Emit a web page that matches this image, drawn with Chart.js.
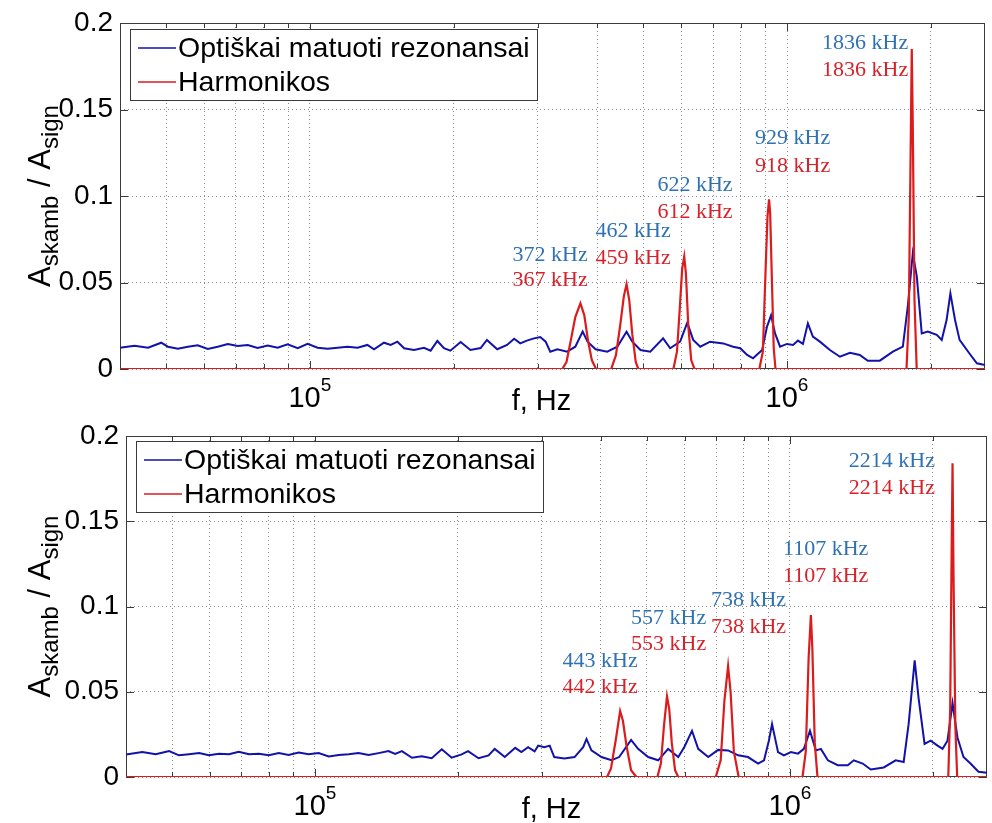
<!DOCTYPE html>
<html>
<head>
<meta charset="utf-8">
<script src="https://cdn.jsdelivr.net/npm/chart.js@4.4.1/dist/chart.umd.min.js"></script>
<style>
	html, body { margin: 0; padding: 0; background: #fff; }
	#wrap { position: relative; width: 992px; height: 823px; }
	#topBox { position: absolute; left: 0; top: 0; }
	#bottomBox { position: absolute; left: 0; top: 415px; }
</style>
</head>
<body>
<div id="wrap">
	<div id="topBox"><canvas id="chartTop" width="992" height="415"></canvas></div>
	<div id="bottomBox"><canvas id="chartBottom" width="992" height="408"></canvas></div>
</div>
<script>
( function () {
	'use strict';

	// axis settings
	var xGridFreqs = [ 5e4, 6e4, 7e4, 8e4, 9e4, 1e5, 2e5, 3e5, 4e5, 5e5, 6e5, 7e5, 8e5, 9e5, 1e6, 2e6 ];
	var xLabelFreqs = [ 1e5, 1e6 ];
	var xLabelExps = [ '5', '6' ];
	var yTickValues = [ 0, 0.05, 0.1, 0.15, 0.2 ];
	var yTickLabels = [ '0', '0.05', '0.1', '0.15', '0.2' ];
	var seriesNames = [ 'Optiškai matuoti rezonansai', 'Harmonikos' ];

	// top panel: optical resonances
	var topBlueFreq = [
		4.0e4, 4.29e4, 4.58e4, 4.88e4, 5.04e4, 5.29e4, 5.55e4, 5.82e4, 6.11e4, 6.41e4,
		6.73e4, 7.06e4, 7.41e4, 7.77e4, 8.16e4, 8.56e4, 8.98e4, 9.43e4, 9.89e4, 1.038e5,
		1.089e5, 1.143e5, 1.199e5, 1.259e5, 1.32e5, 1.363e5, 1.43e5, 1.477e5, 1.526e5, 1.576e5,
		1.653e5, 1.735e5, 1.791e5, 1.85e5, 1.91e5, 1.97e5, 2.07e5, 2.17e5, 2.28e5, 2.35e5,
		2.47e5, 2.59e5, 2.68e5, 2.76e5, 2.85e5, 2.95e5, 3.04e5, 3.12e5, 3.19e5, 3.30e5,
		3.46e5, 3.60e5, 3.73e5, 3.82e5, 3.97e5, 4.20e5, 4.41e5, 4.61e5, 4.74e5, 4.93e5,
		5.17e5, 5.50e5, 5.69e5, 5.97e5, 6.18e5, 6.36e5, 6.58e5, 6.90e5, 7.35e5, 7.71e5,
		7.98e5, 8.25e5, 8.49e5, 8.87e5, 9.08e5, 9.26e5, 9.44e5, 9.67e5, 1.0e6, 1.03e6,
		1.054e6, 1.08e6, 1.106e6, 1.133e6, 1.172e6, 1.23e6, 1.291e6, 1.355e6, 1.421e6, 1.477e6,
		1.565e6, 1.667e6, 1.749e6, 1.791e6, 1.835e6, 1.871e6, 1.916e6, 1.972e6, 2.06e6, 2.11e6,
		2.16e6, 2.20e6, 2.25e6, 2.30e6, 2.41e6, 2.50e6, 2.60e6
	];
	var topBlueAmp = [
		0.0123, 0.0135, 0.0123, 0.0152, 0.0129, 0.0117, 0.0129, 0.0137, 0.0116, 0.0129,
		0.0145, 0.0133, 0.0139, 0.0121, 0.0135, 0.0123, 0.0143, 0.0120, 0.0145, 0.0123,
		0.0117, 0.0123, 0.0129, 0.0123, 0.0139, 0.0114, 0.0152, 0.0139, 0.0158, 0.0120,
		0.0110, 0.0123, 0.0106, 0.0162, 0.0120, 0.0106, 0.0156, 0.0110, 0.0121, 0.0168,
		0.0114, 0.0139, 0.0175, 0.0148, 0.0164, 0.0177, 0.0185, 0.0158, 0.0100, 0.0114,
		0.0100, 0.0129, 0.0216, 0.0158, 0.0114, 0.0100, 0.0129, 0.0216, 0.0158, 0.0110,
		0.0100, 0.0177, 0.0120, 0.0158, 0.0268, 0.0168, 0.0129, 0.0158, 0.0148, 0.0129,
		0.0120, 0.0081, 0.0062, 0.0110, 0.0245, 0.0310, 0.0206, 0.0129, 0.0145, 0.0139,
		0.0164, 0.0145, 0.0264, 0.0187, 0.0158, 0.0110, 0.0071, 0.0094, 0.0081, 0.0048,
		0.0048, 0.0100, 0.0129, 0.0360, 0.0669, 0.0534, 0.0206, 0.0216, 0.0197, 0.0168,
		0.0283, 0.0437, 0.0283, 0.0168, 0.0091, 0.0033, 0.0023
	];

	// top panel: harmonics
	var topRedFreq = [
		4.0e4, 3.38e5, 3.45e5, 3.52e5, 3.60e5, 3.69e5, 3.76e5, 3.83e5, 3.90e5, 3.98e5,
		4.28e5, 4.38e5, 4.47e5, 4.55e5, 4.61e5, 4.67e5, 4.74e5, 4.82e5, 4.88e5,
		5.78e5, 5.88e5, 5.96e5, 6.03e5, 6.09e5, 6.14e5, 6.21e5, 6.30e5, 6.40e5,
		8.75e5, 8.90e5, 9.00e5, 9.10e5, 9.17e5, 9.22e5, 9.30e5, 9.38e5, 9.46e5,
		1.78e6, 1.80e6, 1.815e6, 1.826e6, 1.835e6, 1.85e6, 1.87e6, 2.6e6
	];
	var topRedAmp = [
		0, 0, 0.004, 0.016, 0.030, 0.038, 0.031, 0.016, 0.005, 0,
		0, 0.008, 0.025, 0.042, 0.049, 0.040, 0.020, 0.004, 0,
		0, 0.010, 0.035, 0.058, 0.065, 0.055, 0.025, 0.005, 0,
		0, 0.010, 0.050, 0.088, 0.098, 0.090, 0.050, 0.012, 0,
		0, 0.030, 0.120, 0.185, 0.140, 0.040, 0, 0
	];

	// top panel: peak labels
	var topNoteFreq = [ 2.66e5, 3.97e5, 5.35e5, 8.57e5, 1.184e6 ];
	var topNoteBlueAmp = [ 0.0659, 0.0798, 0.1064, 0.1335, 0.1884 ];
	var topNoteRedAmp = [ 0.0514, 0.0642, 0.0908, 0.1173, 0.1728 ];
	var topNoteBlueText = [ '372 kHz', '462 kHz', '622 kHz', '929 kHz', '1836 kHz' ];
	var topNoteRedText = [ '367 kHz', '459 kHz', '612 kHz', '918 kHz', '1836 kHz' ];

	// bottom panel: optical resonances
	var botBlueFreq = [
		4.0e4, 4.33e4, 4.62e4, 4.93e4, 5.17e4, 5.43e4, 5.70e4, 5.98e4, 6.28e4, 6.59e4,
		6.91e4, 7.26e4, 7.62e4, 7.99e4, 8.39e4, 8.80e4, 9.24e4, 9.70e4, 1.018e5, 1.069e5,
		1.122e5, 1.177e5, 1.235e5, 1.297e5, 1.361e5, 1.428e5, 1.475e5, 1.524e5, 1.60e5, 1.678e5,
		1.761e5, 1.849e5, 1.94e5, 2.036e5, 2.10e5, 2.21e5, 2.32e5, 2.39e5, 2.51e5, 2.64e5,
		2.72e5, 2.81e5, 2.90e5, 2.95e5, 3.04e5, 3.12e5, 3.19e5, 3.35e5, 3.52e5, 3.67e5,
		3.73e5, 3.82e5, 4.01e5, 4.21e5, 4.37e5, 4.63e5, 4.79e5, 5.03e5, 5.28e5, 5.54e5,
		5.82e5, 5.99e5, 6.22e5, 6.41e5, 6.73e5, 7.06e5, 7.41e5, 7.78e5, 8.16e5, 8.57e5,
		8.82e5, 9.03e5, 9.17e5, 9.44e5, 9.71e5, 1.005e6, 1.04e6, 1.07e6, 1.102e6, 1.134e6,
		1.162e6, 1.202e6, 1.261e6, 1.324e6, 1.363e6, 1.423e6, 1.48e6, 1.576e6, 1.67e6, 1.736e6,
		1.778e6, 1.831e6, 1.866e6, 1.921e6, 1.978e6, 2.046e6, 2.096e6, 2.147e6, 2.20e6, 2.253e6,
		2.32e6, 2.40e6, 2.495e6, 2.60e6
	];
	var botBlueAmp = [
		0.0132, 0.0146, 0.0133, 0.0152, 0.0127, 0.0133, 0.0140, 0.0127, 0.0136, 0.0133,
		0.0148, 0.0133, 0.0136, 0.0127, 0.0140, 0.0129, 0.0144, 0.0133, 0.0140, 0.0121,
		0.0129, 0.0133, 0.0140, 0.0129, 0.0140, 0.0152, 0.0136, 0.0152, 0.0113, 0.0121,
		0.0110, 0.0163, 0.0113, 0.0133, 0.0152, 0.0110, 0.0127, 0.0165, 0.0117, 0.0171,
		0.0146, 0.0175, 0.0150, 0.0184, 0.0175, 0.0184, 0.0117, 0.0108, 0.0117, 0.0175,
		0.0223, 0.0156, 0.0117, 0.0098, 0.0117, 0.0217, 0.0165, 0.0117, 0.0098, 0.0165,
		0.0117, 0.0175, 0.0271, 0.0165, 0.0117, 0.0159, 0.0156, 0.0127, 0.0117, 0.0079,
		0.0098, 0.0213, 0.0310, 0.0146, 0.0127, 0.0146, 0.0137, 0.0165, 0.0271, 0.0156,
		0.0165, 0.0098, 0.0069, 0.0069, 0.0098, 0.0079, 0.0044, 0.0056, 0.0098, 0.0088,
		0.0310, 0.0684, 0.0463, 0.0194, 0.0213, 0.0184, 0.0165, 0.0213, 0.0434, 0.0232,
		0.0117, 0.0079, 0.0031, 0.0025
	];

	// bottom panel: harmonics
	var botRedFreq = [
		4.0e4, 4.12e5, 4.20e5, 4.30e5, 4.39e5, 4.45e5, 4.53e5, 4.63e5, 4.75e5,
		5.26e5, 5.35e5, 5.43e5, 5.51e5, 5.57e5, 5.64e5, 5.73e5, 5.82e5,
		6.98e5, 7.15e5, 7.28e5, 7.41e5, 7.50e5, 7.62e5, 7.80e5,
		1.063e6, 1.08e6, 1.095e6, 1.107e6, 1.115e6, 1.128e6, 1.143e6,
		2.155e6, 2.175e6, 2.19e6, 2.20e6, 2.21e6, 2.23e6, 2.25e6, 2.6e6
	];
	var botRedAmp = [
		0, 0, 0.005, 0.022, 0.0386, 0.033, 0.018, 0.004, 0,
		0, 0.008, 0.030, 0.0473, 0.040, 0.020, 0.004, 0,
		0, 0.010, 0.045, 0.065, 0.050, 0.015, 0,
		0, 0.015, 0.070, 0.095, 0.075, 0.020, 0,
		0, 0.040, 0.130, 0.184, 0.120, 0.030, 0, 0
	];

	// bottom panel: peak labels
	var botNoteFreq = [ 3.32e5, 4.63e5, 6.82e5, 9.67e5, 1.33e6 ];
	var botNoteBlueAmp = [ 0.068, 0.0934, 0.1037, 0.1337, 0.185 ];
	var botNoteRedAmp = [ 0.0524, 0.0778, 0.0876, 0.1176, 0.1695 ];
	var botNoteBlueText = [ '443 kHz', '557 kHz', '738 kHz', '1107 kHz', '2214 kHz' ];
	var botNoteRedText = [ '442 kHz', '553 kHz', '738 kHz', '1107 kHz', '2214 kHz' ];

	var SANS = '"Liberation Sans", Arial, sans-serif';
	var SERIF = '"Liberation Serif", "Times New Roman", serif';
	var BLUE = '#1212aa';
	var RED = '#dc1c1c';
	var NOTE_BLUE = '#2f72b3';
	var NOTE_RED = '#d8222a';

	function toPoints( xs, ys ) {
		return xs.map( function ( x, i ) {
			return { x: x, y: ys[ i ] };
		} );
	}

	function drawYTitle( ctx, x, yc ) {
		var parts = [
			[ 'A', 31, 0 ],
			[ 'skamb', 24, 8 ],
			[ ' / A', 31, 0 ],
			[ 'sign', 24, 8 ],
		];
		var total = 0;
		parts.forEach( function ( p ) {
			ctx.font = p[ 1 ] + 'px ' + SANS;
			p.push( ctx.measureText( p[ 0 ] ).width );
			total += p[ 3 ];
		} );
		ctx.save();
		ctx.translate( x, yc );
		ctx.rotate( -Math.PI / 2 );
		ctx.textAlign = 'left';
		ctx.textBaseline = 'alphabetic';
		ctx.fillStyle = '#000';
		var pos = -total / 2;
		parts.forEach( function ( p ) {
			ctx.font = p[ 1 ] + 'px ' + SANS;
			ctx.fillText( p[ 0 ], pos, p[ 2 ] );
			pos += p[ 3 ];
		} );
		ctx.restore();
	}

	var panelPlugin = {
		id: 'panel',
		beforeDatasetsDraw: function ( chart ) {
			var ctx = chart.ctx;
			var a = chart.chartArea;
			var xs = chart.scales.x;
			var ys = chart.scales.y;
			ctx.save();
			ctx.strokeStyle = '#3a3a3a';
			ctx.lineWidth = 1;
			ctx.strokeRect( Math.round( a.left ) + 0.5, Math.round( a.top ) + 0.5,
				Math.round( a.right - a.left ) - 1, Math.round( a.bottom - a.top ) - 1 );
			ctx.beginPath();
			xGridFreqs.forEach( function ( f ) {
				var px = Math.round( xs.getPixelForValue( f ) ) + 0.5;
				var len = xLabelFreqs.indexOf( f ) >= 0 ? 8 : 5;
				ctx.moveTo( px, a.top );
				ctx.lineTo( px, a.top + len );
				ctx.moveTo( px, a.bottom );
				ctx.lineTo( px, a.bottom - len );
			} );
			yTickValues.forEach( function ( v ) {
				var py = Math.round( ys.getPixelForValue( v ) ) + 0.5;
				ctx.moveTo( a.left, py );
				ctx.lineTo( a.left + 8, py );
				ctx.moveTo( a.right, py );
				ctx.lineTo( a.right - 8, py );
			} );
			ctx.stroke();
			ctx.restore();
		},
		afterDatasetsDraw: function ( chart, args, opts ) {
			var ctx = chart.ctx;
			var a = chart.chartArea;
			var xs = chart.scales.x;
			var ys = chart.scales.y;
			ctx.save();

			// x tick labels as powers of ten
			ctx.fillStyle = '#000';
			ctx.textAlign = 'left';
			ctx.textBaseline = 'alphabetic';
			xLabelFreqs.forEach( function ( f, i ) {
				var px = xs.getPixelForValue( f );
				ctx.font = '29px ' + SANS;
				var w1 = ctx.measureText( '10' ).width;
				ctx.font = '19px ' + SANS;
				var w2 = ctx.measureText( xLabelExps[ i ] ).width;
				var x0 = px - ( w1 + w2 ) / 2;
				ctx.font = '29px ' + SANS;
				ctx.fillText( '10', x0, a.bottom + 38 );
				ctx.font = '19px ' + SANS;
				ctx.fillText( xLabelExps[ i ], x0 + w1, a.bottom + 22 );
			} );

			// x title
			ctx.font = '29px ' + SANS;
			ctx.textAlign = 'center';
			ctx.fillText( 'f, Hz', ( a.left + a.right ) / 2 + opts.titleShift, a.bottom + 41 );

			// y title
			drawYTitle( ctx, 50, ( a.top + a.bottom ) / 2 );

			// peak labels
			ctx.font = '22px ' + SERIF;
			ctx.textAlign = 'left';
			ctx.textBaseline = 'middle';
			opts.noteFreq.forEach( function ( f, i ) {
				var px = xs.getPixelForValue( f );
				ctx.fillStyle = NOTE_BLUE;
				ctx.fillText( opts.noteBlueText[ i ], px, ys.getPixelForValue( opts.noteBlueAmp[ i ] ) );
				ctx.fillStyle = NOTE_RED;
				ctx.fillText( opts.noteRedText[ i ], px, ys.getPixelForValue( opts.noteRedAmp[ i ] ) );
			} );

			// legend box
			var lx = Math.round( a.left ) + 10;
			var ly = Math.round( a.top ) + opts.legendTop;
			ctx.fillStyle = '#fff';
			ctx.fillRect( lx, ly, 407, 71 );
			ctx.strokeStyle = '#3a3a3a';
			ctx.lineWidth = 1;
			ctx.strokeRect( lx + 0.5, ly + 0.5, 407, 71 );
			ctx.font = '28.5px ' + SANS;
			ctx.textBaseline = 'middle';
			chart.data.datasets.forEach( function ( ds, i ) {
				var ry = ly + ( i === 0 ? 19 : 53 );
				ctx.strokeStyle = ds.borderColor;
				ctx.lineWidth = 1.5;
				ctx.beginPath();
				ctx.moveTo( lx + 8, ry );
				ctx.lineTo( lx + 46, ry );
				ctx.stroke();
				ctx.fillStyle = '#000';
				ctx.fillText( ds.label, lx + 48, ry + 1 );
			} );

			ctx.restore();
		},
	};

	function makeChart( id, blue, red, notes, layout ) {
		var canvas = document.getElementById( id );
		return new Chart( canvas, {
			type: 'line',
			data: {
				datasets: [
					{
						label: seriesNames[ 0 ],
						data: blue,
						borderColor: BLUE,
						borderWidth: 2,
						pointRadius: 0,
						tension: 0,
						order: 1,
					},
					{
						label: seriesNames[ 1 ],
						data: red,
						borderColor: RED,
						borderWidth: 2.2,
						pointRadius: 0,
						tension: 0,
						order: 0,
					},
				],
			},
			options: {
				responsive: false,
				animation: false,
				events: [],
				layout: {
					padding: { top: layout.top, right: layout.right, left: 0, bottom: 0 },
				},
				plugins: {
					legend: { display: false },
					tooltip: { enabled: false },
					panel: {
						titleShift: layout.titleShift,
						legendTop: layout.legendTop,
						noteFreq: notes.freq,
						noteBlueAmp: notes.blueAmp,
						noteRedAmp: notes.redAmp,
						noteBlueText: notes.blueText,
						noteRedText: notes.redText,
					},
				},
				scales: {
					x: {
						type: 'logarithmic',
						min: 4e4,
						max: 2.6e6,
						afterBuildTicks: function ( scale ) {
							scale.ticks = xGridFreqs.map( function ( v ) {
								return { value: v };
							} );
						},
						afterFit: function ( scale ) {
							scale.height = layout.axisHeight;
						},
						ticks: { display: false },
						grid: { color: '#8a8a8a', lineWidth: 1, drawTicks: false },
						border: { display: false, dash: [ 1, 3 ] },
					},
					y: {
						type: 'linear',
						min: 0,
						max: 0.2,
						afterBuildTicks: function ( scale ) {
							scale.ticks = yTickValues.map( function ( v ) {
								return { value: v };
							} );
						},
						afterFit: function ( scale ) {
							scale.width = layout.left;
						},
						ticks: {
							color: '#000',
							padding: 7,
							font: { family: SANS, size: 28, lineHeight: 1 },
							callback: function ( value, index ) {
								return yTickLabels[ index ];
							},
						},
						grid: { color: '#8a8a8a', lineWidth: 1, drawTicks: false },
						border: { display: false, dash: [ 1, 3 ] },
					},
				},
			},
			plugins: [ panelPlugin ],
		} );
	}

	makeChart( 'chartTop',
		toPoints( topBlueFreq, topBlueAmp ),
		toPoints( topRedFreq, topRedAmp ),
		{ freq: topNoteFreq, blueAmp: topNoteBlueAmp, redAmp: topNoteRedAmp, blueText: topNoteBlueText, redText: topNoteRedText },
		{ top: 23, right: 7, left: 120, axisHeight: 46, legendTop: 6, titleShift: -11 }
	);

	makeChart( 'chartBottom',
		toPoints( botBlueFreq, botBlueAmp ),
		toPoints( botRedFreq, botRedAmp ),
		{ freq: botNoteFreq, blueAmp: botNoteBlueAmp, redAmp: botNoteRedAmp, blueText: botNoteBlueText, redText: botNoteRedText },
		{ top: 15, right: 5, left: 126, axisHeight: 46, legendTop: 5, titleShift: -5 }
	);
} )();
</script>
</body>
</html>
